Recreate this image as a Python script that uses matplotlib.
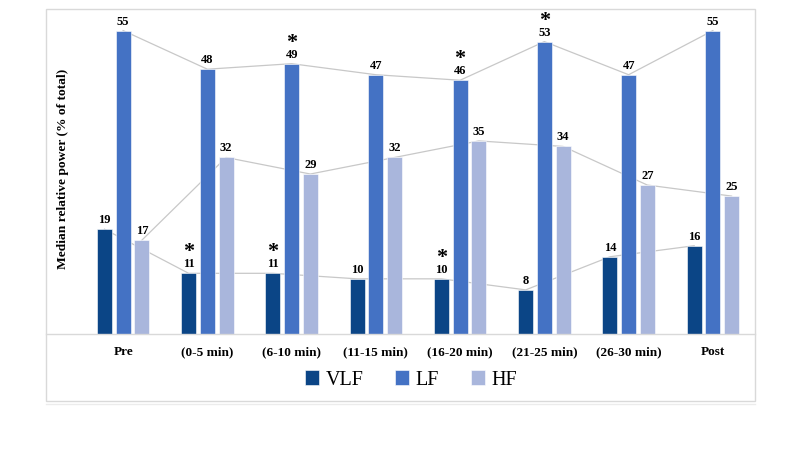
import matplotlib.pyplot as plt
import numpy as np
from matplotlib.patches import Rectangle
from matplotlib.lines import Line2D

categories = ['Pre', '(0-5 min)', '(6-10 min)', '(11-15 min)', '(16-20 min)',
              '(21-25 min)', '(26-30 min)', 'Post']
vlf = [19, 11, 11, 10, 10, 8, 14, 16]
lf = [55, 48, 49, 47, 46, 53, 47, 55]
hf = [17, 32, 29, 32, 35, 34, 27, 25]

# asterisks (significance) per series
vlf_star = [False, True, True, False, True, False, False, False]
lf_star = [False, False, True, False, True, True, False, False]
hf_star = [False] * 8

series = [('VLF', vlf, vlf_star, '#0b4586'),
          ('LF', lf, lf_star, '#4472c4'),
          ('HF', hf, hf_star, '#a9b6dc')]

plt.rcParams['font.family'] = ['Liberation Serif', 'DejaVu Serif']

fig = plt.figure(figsize=(8, 4.5), dpi=100)
W, H = 800, 450

# outer chart box
fig.patches.append(Rectangle((46 / W, 1 - 401 / H), (755 - 46) / W, (401 - 9) / H,
                             transform=fig.transFigure, fill=False,
                             edgecolor='#d9d9d9', linewidth=1))
fig.lines.append(Line2D([46 / W, 755 / W], [1 - 404 / H, 1 - 404 / H],
                        transform=fig.transFigure, color='#ececec', linewidth=1))
# baseline
fig.lines.append(Line2D([46 / W, 755 / W], [1 - 334 / H, 1 - 334 / H],
                        transform=fig.transFigure, color='#d9d9d9', linewidth=1))

ax = fig.add_axes([81 / W, 1 - 334 / H, (755 - 81) / W, (334 - 3) / H])
ax.set_xlim(-0.5, 7.5)
ax.set_ylim(0, 60)
for s in ax.spines.values():
    s.set_visible(False)
ax.set_yticks([])
ax.set_xticks([])

x = np.arange(len(categories))
offsets = [-0.222, 0, 0.222]
bw = 0.178

for (name, vals, stars, col), off in zip(series, offsets):
    xs = x + off
    ax.plot(xs, vals, color='#c8c8c8', linewidth=0.9, zorder=1)
    ax.bar(xs, vals, width=bw, color=col, edgecolor='white', linewidth=0.4,
           zorder=2, label=name)
    for xi, v, st in zip(xs, vals, stars):
        ax.text(xi, v + 1.1, str(v), ha='center', va='baseline', fontsize=9,
                fontweight='bold', clip_on=False)
        if st:
            ax.text(xi, v + 2.9, '*', ha='center', va='baseline', fontsize=16,
                    fontweight='bold', clip_on=False)

for xi, c in zip(x, categories):
    fig.text((81 + (xi + 0.5) * (755 - 81) / 8) / W, 1 - 352 / H, c,
             ha='center', va='center', fontsize=9.5, fontweight='bold')

fig.text(63 / W, 1 - 169 / H, 'Median relative power (% of total)', rotation=90,
         ha='center', va='center', fontsize=9.7, fontweight='bold')

fig.legend(loc='center', bbox_to_anchor=(411 / W, 1 - 380 / H), ncol=3,
           frameon=False, fontsize=14.5, handlelength=0.7, handleheight=0.7,
           handletextpad=0.3, columnspacing=1.6)

fig.savefig('out.png', dpi=100)
